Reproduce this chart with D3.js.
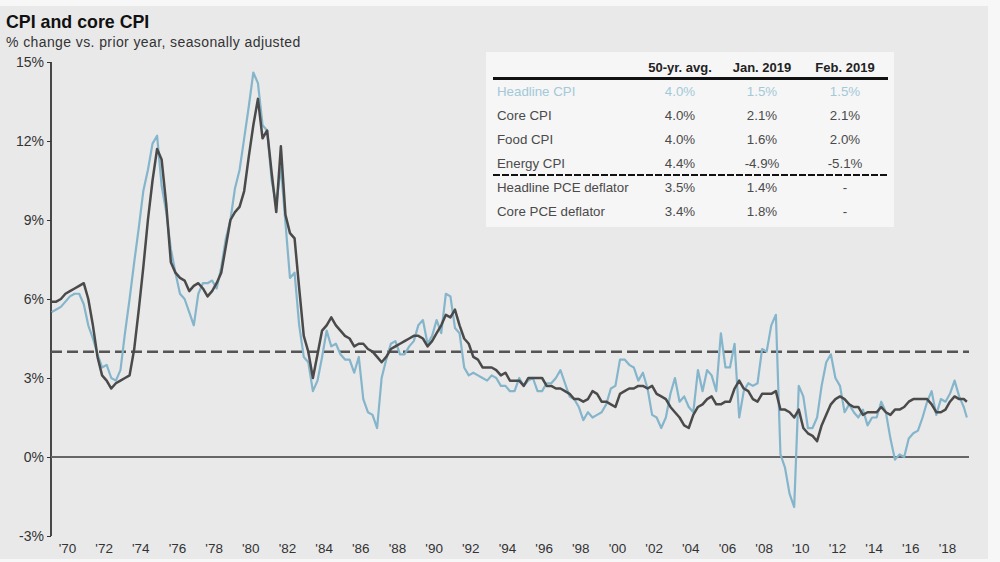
<!DOCTYPE html>
<html>
<head>
    <title>CPI and core CPI</title>
    <script src="https://cdn.jsdelivr.net/npm/d3@7"></script>
    <style>
        body {
            margin: 0;
            background: #f7f7f7;
            font-family: "Liberation Sans", Arial, sans-serif;
        }
        svg {
            display: block;
        }
        .axis text {
            font-family: "Liberation Sans", Arial, sans-serif;
            fill: #333;
        }
    </style>
</head>
<body>
<svg id="chart" width="1000" height="562"></svg>

<script>
    // quarterly readings (Mar, Jun, Sep, Dec) from 1969 to 2018, then Feb 2019
    var firstYear = 1969, lastYear = 2018;
    var quarterMonths = [2, 5, 8, 11];
    var lastPoint = new Date(2019, 1, 1);

    var headlineCPI = [
        5.5, 5.6, 5.7, 5.9,    // 1969
        6.1, 6.2, 6.2, 5.8,    // 1970
        5.0, 4.5, 3.9, 3.4,    // 1971
        3.5, 3.0, 2.9, 3.3,    // 1972
        4.7, 6.0, 7.4, 8.7,    // 1973
        10.1, 10.9, 11.9, 12.2, // 1974
        10.3, 9.3, 7.9, 7.0,   // 1975
        6.2, 6.0, 5.5, 5.0,    // 1976
        6.2, 6.6, 6.6, 6.7,    // 1977
        6.4, 7.2, 8.3, 9.0,    // 1978
        10.2, 10.9, 12.1, 13.3, // 1979
        14.6, 14.2, 12.6, 12.4, // 1980
        10.5, 9.6, 11.0, 8.9,  // 1981
        6.8, 7.0, 5.0, 3.8,    // 1982
        3.6, 2.5, 2.9, 3.8,    // 1983
        4.8, 4.2, 4.3, 3.9,    // 1984
        3.7, 3.7, 3.2, 3.8,    // 1985
        2.2, 1.7, 1.6, 1.1,    // 1986
        3.0, 3.7, 4.3, 4.4,    // 1987
        3.9, 3.9, 4.2, 4.4,    // 1988
        5.0, 5.2, 4.3, 4.6,    // 1989
        5.2, 4.7, 6.2, 6.1,    // 1990
        4.9, 4.7, 3.4, 3.1,    // 1991
        3.2, 3.1, 3.0, 2.9,    // 1992
        3.1, 3.0, 2.7, 2.7,    // 1993
        2.5, 2.5, 3.0, 2.7,    // 1994
        2.9, 3.0, 2.5, 2.5,    // 1995
        2.8, 2.8, 3.0, 3.3,    // 1996
        2.8, 2.3, 2.2, 1.9,    // 1997
        1.4, 1.7, 1.5, 1.6,    // 1998
        1.7, 2.0, 2.6, 2.7,    // 1999
        3.7, 3.7, 3.5, 3.4,    // 2000
        2.9, 3.2, 2.6, 1.6,    // 2001
        1.5, 1.1, 1.5, 2.4,    // 2002
        3.0, 2.1, 2.3, 1.9,    // 2003
        1.7, 3.3, 2.5, 3.3,    // 2004
        3.1, 2.5, 4.7, 3.4,    // 2005
        3.4, 4.3, 1.5, 2.5,    // 2006
        2.8, 2.7, 2.8, 4.1,    // 2007
        4.0, 5.0, 5.4, 0.1,    // 2008
        -0.4, -1.4, -1.9, 2.7, // 2009
        2.3, 1.1, 1.1, 1.5,    // 2010
        2.7, 3.6, 3.9, 3.0,    // 2011
        2.7, 1.7, 2.0, 1.7,    // 2012
        1.5, 1.8, 1.2, 1.5,    // 2013
        1.5, 2.1, 1.7, 0.7,    // 2014
        -0.1, 0.1, 0.0, 0.7,   // 2015
        0.9, 1.0, 1.5, 2.1,    // 2016
        2.5, 1.6, 2.2, 2.1,    // 2017
        2.4, 2.9, 2.3, 1.9,    // 2018
        1.5                    // Feb 2019
    ];

    var coreCPI = [
        5.9, 5.9, 6.0, 6.2,    // 1969
        6.3, 6.4, 6.5, 6.6,    // 1970
        6.0, 5.0, 3.8, 3.1,    // 1971
        2.9, 2.6, 2.8, 2.9,    // 1972
        3.0, 3.1, 4.1, 5.6,    // 1973
        7.2, 9.0, 10.5, 11.7,  // 1974
        11.3, 9.6, 7.4, 7.0,   // 1975
        6.8, 6.7, 6.3, 6.5,    // 1976
        6.6, 6.4, 6.1, 6.3,    // 1977
        6.6, 7.0, 8.0, 9.0,    // 1978
        9.3, 9.5, 10.1, 11.4,  // 1979
        12.6, 13.6, 12.1, 12.4, // 1980
        10.8, 9.3, 11.8, 9.2,  // 1981
        8.5, 8.3, 6.4, 4.6,    // 1982
        4.0, 3.0, 3.9, 4.8,    // 1983
        5.0, 5.3, 5.0, 4.8,    // 1984
        4.6, 4.5, 4.2, 4.3,    // 1985
        4.3, 4.1, 4.0, 3.8,    // 1986
        3.6, 3.8, 4.1, 4.2,    // 1987
        4.3, 4.4, 4.5, 4.6,    // 1988
        4.6, 4.5, 4.2, 4.4,    // 1989
        4.7, 5.0, 5.4, 5.3,    // 1990
        5.6, 5.0, 4.5, 4.3,    // 1991
        3.8, 3.7, 3.4, 3.4,    // 1992
        3.4, 3.3, 3.1, 3.2,    // 1993
        2.9, 2.9, 2.9, 2.7,    // 1994
        3.0, 3.0, 3.0, 3.0,    // 1995
        2.7, 2.7, 2.6, 2.6,    // 1996
        2.5, 2.4, 2.2, 2.2,    // 1997
        2.1, 2.2, 2.5, 2.4,    // 1998
        2.1, 2.1, 2.0, 1.9,    // 1999
        2.4, 2.5, 2.6, 2.6,    // 2000
        2.7, 2.7, 2.6, 2.7,    // 2001
        2.4, 2.3, 2.2, 1.9,    // 2002
        1.7, 1.5, 1.2, 1.1,    // 2003
        1.6, 1.9, 2.0, 2.2,    // 2004
        2.3, 2.0, 2.0, 2.1,    // 2005
        2.1, 2.6, 2.9, 2.6,    // 2006
        2.5, 2.2, 2.1, 2.4,    // 2007
        2.4, 2.4, 2.5, 1.8,    // 2008
        1.8, 1.7, 1.5, 1.8,    // 2009
        1.1, 0.9, 0.8, 0.6,    // 2010
        1.2, 1.6, 2.0, 2.2,    // 2011
        2.3, 2.2, 2.0, 1.9,    // 2012
        1.9, 1.6, 1.7, 1.7,    // 2013
        1.7, 1.9, 1.7, 1.6,    // 2014
        1.8, 1.8, 1.9, 2.1,    // 2015
        2.2, 2.2, 2.2, 2.2,    // 2016
        2.0, 1.7, 1.7, 1.8,    // 2017
        2.1, 2.3, 2.2, 2.2,    // 2018
        2.1                    // Feb 2019
    ];

    var fiftyYearAvg = 4.0;
    var yTicks = [-3, 0, 3, 6, 9, 12, 15];
    var xTickYears = d3.range(1970, 2019, 2);

    var tableCols = ["50-yr. avg.", "Jan. 2019", "Feb. 2019"];
    var tableRows = ["Headline CPI", "Core CPI", "Food CPI", "Energy CPI", "Headline PCE deflator", "Core PCE deflator"];
    var tableValues = [
        ["4.0%", "1.5%", "1.5%"],
        ["4.0%", "2.1%", "2.1%"],
        ["4.0%", "1.6%", "2.0%"],
        ["4.4%", "-4.9%", "-5.1%"],
        ["3.5%", "1.4%", "-"],
        ["3.4%", "1.8%", "-"]
    ];

    // build the date list for the quarterly readings
    var dates = [];
    d3.range(firstYear, lastYear + 1).forEach(function (yr) {
        quarterMonths.forEach(function (m) {
            dates.push(new Date(yr, m, 1));
        });
    });
    dates.push(lastPoint);

    var HEADLINE_COLOR = '#84b5cb', CORE_COLOR = '#4a4a4a';

    var svg = d3.select('#chart');

    // background panel
    svg.append('rect')
        .attr('x', 0).attr('y', 6)
        .attr('width', 988).attr('height', 553)
        .attr('fill', '#e9e9ea');

    // title
    svg.append('text')
        .attr('x', 6).attr('y', 28)
        .style('font-size', '17.8px')
        .style('font-weight', 'bold')
        .style('fill', '#111')
        .text('CPI and core CPI');
    svg.append('text')
        .attr('x', 6).attr('y', 47)
        .style('font-size', '14px')
        .style('letter-spacing', '0.4px')
        .style('fill', '#333')
        .text('% change vs. prior year, seasonally adjusted');

    var x = d3.scaleTime()
        .domain([new Date(1970, 0, 1), new Date(2018, 0, 1)])
        .range([67, 947]);
    var y = d3.scaleLinear()
        .domain([-3, 15])
        .range([536, 62]);

    var plotLeft = 51, plotRight = 969;

    // y axis
    var yAxis = svg.append('g')
        .attr('class', 'axis')
        .attr('transform', 'translate(' + plotLeft + ',0)')
        .call(d3.axisLeft(y).tickValues(yTicks).tickSize(4).tickPadding(3)
            .tickFormat(function (d) { return d + '%'; }));
    yAxis.select('.domain').attr('stroke', '#111').attr('stroke-width', 1.5)
        .attr('d', 'M0,' + y(15) + 'V' + y(-3));
    yAxis.selectAll('.tick line').attr('stroke', '#333');
    yAxis.selectAll('text').style('font-size', '14px');

    // x axis labels
    var xAxis = svg.append('g')
        .attr('class', 'axis')
        .attr('transform', 'translate(0,' + y(-3) + ')')
        .call(d3.axisBottom(x)
            .tickValues(xTickYears.map(function (yr) { return new Date(yr, 0, 1); }))
            .tickSize(0).tickPadding(7)
            .tickFormat(function (d) { return "'" + d3.timeFormat('%y')(d); }));
    xAxis.select('.domain').remove();
    xAxis.selectAll('text').style('font-size', '13.5px');

    // zero line
    svg.append('line')
        .attr('x1', plotLeft).attr('x2', plotRight)
        .attr('y1', y(0)).attr('y2', y(0))
        .attr('stroke', '#666').attr('stroke-width', 2);

    // 50-yr average
    svg.append('line')
        .attr('x1', plotLeft).attr('x2', plotRight)
        .attr('y1', y(fiftyYearAvg)).attr('y2', y(fiftyYearAvg))
        .attr('stroke', '#555').attr('stroke-width', 2.5)
        .attr('stroke-dasharray', '11,5');

    var line = d3.line()
        .x(function (d, i) { return x(dates[i]); })
        .y(function (d) { return y(d); });

    svg.append('path')
        .datum(headlineCPI)
        .attr('d', line)
        .attr('fill', 'none')
        .attr('stroke', HEADLINE_COLOR)
        .attr('stroke-width', 2.2)
        .attr('stroke-linejoin', 'round');

    svg.append('path')
        .datum(coreCPI)
        .attr('d', line)
        .attr('fill', 'none')
        .attr('stroke', CORE_COLOR)
        .attr('stroke-width', 2.5)
        .attr('stroke-linejoin', 'round');

    // summary table
    var table = svg.append('g');
    table.append('rect')
        .attr('x', 486).attr('y', 52)
        .attr('width', 408).attr('height', 175)
        .attr('fill', '#f6f6f6');

    var colX = [680, 762, 845];
    var rowY = [96, 120, 144, 168, 192, 216];

    table.selectAll('text.head').data(tableCols).enter()
        .append('text').attr('class', 'head')
        .attr('x', function (d, i) { return colX[i]; })
        .attr('y', 72)
        .attr('text-anchor', 'middle')
        .style('font-size', '13px')
        .style('font-weight', 'bold')
        .style('fill', '#222')
        .text(function (d) { return d; });

    table.append('line')
        .attr('x1', 493).attr('x2', 888)
        .attr('y1', 78.5).attr('y2', 78.5)
        .attr('stroke', '#111').attr('stroke-width', 3);

    table.append('line')
        .attr('x1', 493).attr('x2', 888)
        .attr('y1', 175).attr('y2', 175)
        .attr('stroke', '#111').attr('stroke-width', 1.8)
        .attr('stroke-dasharray', '7,2');

    var rowColor = function (i) { return i === 0 ? '#a3c9d8' : '#4a4a4a'; };

    var rows = table.selectAll('g.row').data(tableRows).enter()
        .append('g').attr('class', 'row');
    rows.append('text')
        .attr('x', 497)
        .attr('y', function (d, i) { return rowY[i]; })
        .style('font-size', '13.3px')
        .style('fill', function (d, i) { return rowColor(i); })
        .text(function (d) { return d; });
    rows.each(function (d, i) {
        d3.select(this).selectAll('text.val').data(tableValues[i]).enter()
            .append('text').attr('class', 'val')
            .attr('x', function (v, j) { return colX[j]; })
            .attr('y', rowY[i])
            .attr('text-anchor', 'middle')
            .style('font-size', '13.3px')
            .style('fill', rowColor(i))
            .text(function (v) { return v; });
    });
</script>
</body>
</html>
